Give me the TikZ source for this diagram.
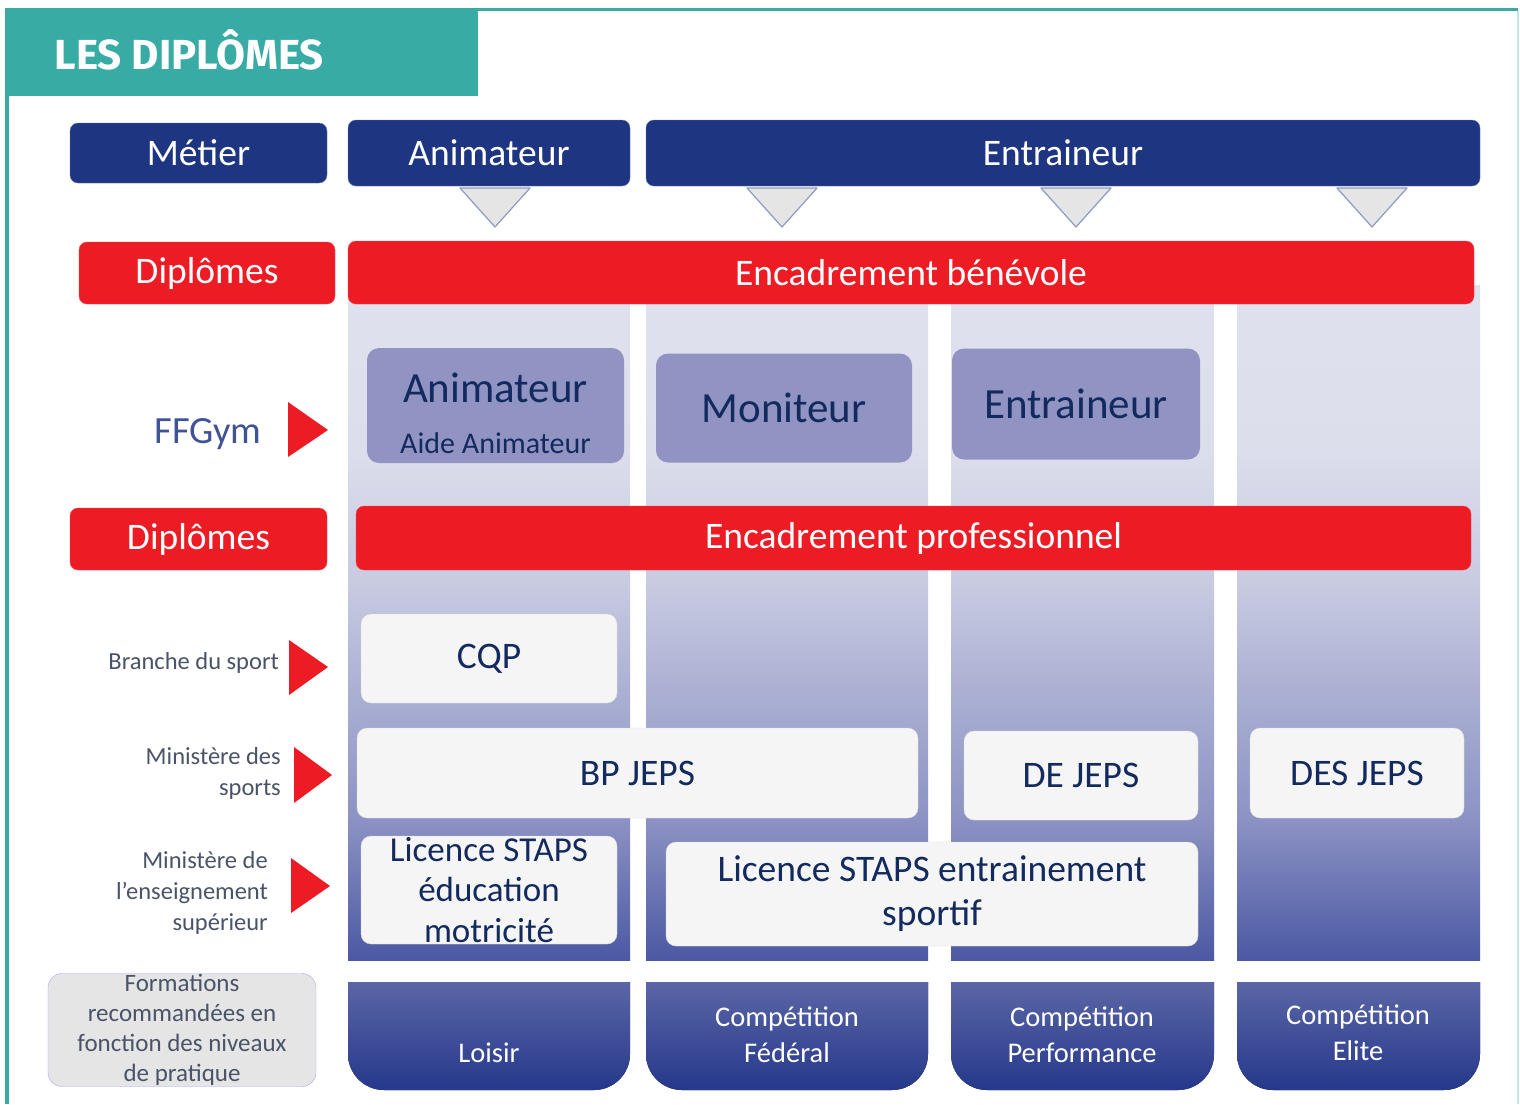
\documentclass[tikz,border=0pt]{standalone}
\usepackage{fontspec}
\setmainfont{Carlito}
\newfontfamily\headfont{Fira Sans}
\usetikzlibrary{positioning}

\definecolor{teal}{HTML}{38ABA5}
\definecolor{navy}{HTML}{1E3582}
\definecolor{rouge}{HTML}{ED1C24}
\definecolor{mauve}{HTML}{9194C2}
\definecolor{encre}{HTML}{122A5E}
\definecolor{ardoise}{HTML}{4A5468}
\definecolor{botTop}{HTML}{5A66A5}
\definecolor{botBot}{HTML}{26388B}

% degrade des colonnes (de bas en haut)
\pgfdeclareverticalshading{colshade}{100bp}{
  color(0bp)=(rgb,255:red,75;green,89;blue,163);
  color(25bp)=(rgb,255:red,75;green,89;blue,163);
  color(35.4bp)=(rgb,255:red,140;green,146;blue,195);
  color(44.3bp)=(rgb,255:red,169;green,174;blue,210);
  color(53.1bp)=(rgb,255:red,200;green,203;blue,225);
  color(62.8bp)=(rgb,255:red,220;green,222;blue,236);
  color(75bp)=(rgb,255:red,223;green,225;blue,238);
  color(100bp)=(rgb,255:red,223;green,225;blue,238)}

\tikzset{
  metierbox/.style={fill=navy, draw=navy!70!white, rounded corners=8pt, text=white,
    font=\fontsize{37.5}{44}\selectfont, inner sep=0pt},
  diplbox/.style={fill=rouge, draw=rouge!80!white, rounded corners=8pt, text=white,
    font=\fontsize{37.5}{44}\selectfont, inner sep=0pt},
  ffbox/.style={fill=mauve, rounded corners=12pt, text=encre, inner sep=0pt},
  whitebox/.style={fill=white!96!black, draw=white!85!black, rounded corners=10pt,
    text=encre, inner sep=0pt, align=center},
  sidelabel/.style={text=ardoise, anchor=east, align=right, inner sep=0pt,
    font=\fontsize{24.5}{31}\selectfont},
  redtri/.style={fill=rouge},
  graytri/.style={fill=white!90!black, draw=navy!50!white, line width=1.2pt, line join=round},
  colonne/.style={shading=colshade},
  niveau/.style={top color=botTop, bottom color=botBot},
  niveautext/.style={text=white, align=center, font=\fontsize{28.5}{36}\selectfont}
}

\begin{document}
\begin{tikzpicture}[x=1pt, y=-1pt]
  \useasboundingbox (0,0) rectangle (1520,1104);
  \fill[white] (0,0) rectangle (1520,1104);

  % cadre et titre
  \fill[teal] (5,8) rectangle (1518,11);
  \fill[teal] (5,8) rectangle (9,1104);
  \fill[teal!30!white] (1517,11) rectangle (1519,1104);
  \fill[teal] (5,8) rectangle (478,96);
  \node[anchor=west, text=white, font=\headfont\bfseries\fontsize{42}{48}\selectfont] (titre) at (51,50) {LES DIPLÔMES};

  % colonnes en degrade
  \foreach \xa/\xb in {348/630, 646/928, 951/1214, 1237/1480} {
    \shade[colonne] (\xa,285) rectangle (\xb,960);
    \fill[niveau, rounded corners=36pt] (\xa,982) -- (\xa,1090) -- (\xb,1090) -- (\xb,982);
  }

  % ligne metier
  \node[metierbox, minimum width=257, minimum height=60] (metier) at (198.5,153) {Métier};
  \node[metierbox, minimum width=282, minimum height=66] (anim) at (489,153) {Animateur};
  \node[metierbox, minimum width=834, minimum height=66] (entr) at (1063,153) {Entraineur};

  % petits triangles sous les metiers
  \foreach \cx in {495, 782, 1076, 1372}
    \draw[graytri] (\cx-35,188) -- (\cx+35,188) -- (\cx,227) -- cycle;

  % encadrement benevole
  \node[diplbox, minimum width=256, minimum height=62] (dipl1) at (207,273) {Diplômes};
  \node[diplbox, minimum width=1126, minimum height=63] (benev) at (911,272.5) {Encadrement bénévole};

  % diplomes FFGym
  \node[text=navy!85!white, font=\fontsize{38.5}{44}\selectfont] (ffgym) at (208,434) {FFGym};
  \fill[redtri] (288,402) -- (328,430) -- (288,457) -- cycle;
  \node[ffbox, minimum width=257, minimum height=115] (animff) at (495.5,405.5) {};
  \node[text=encre, font=\fontsize{43}{48}\selectfont] (animt) at (495.5,388) {Animateur};
  \node[text=encre, font=\fontsize{30}{36}\selectfont] (aide) at (495.5,443) {Aide Animateur};
  \node[ffbox, minimum width=256, minimum height=109, font=\fontsize{43}{48}\selectfont] (monit) at (784,408) {Moniteur};
  \node[ffbox, minimum width=248, minimum height=111, font=\fontsize{43}{48}\selectfont] (entrff) at (1076,404) {Entraineur};

  % encadrement professionnel
  \node[diplbox, minimum width=257, minimum height=62] (dipl2) at (198.5,539) {Diplômes};
  \node[diplbox, minimum width=1115, minimum height=64] (pro) at (913.5,538) {Encadrement professionnel};

  % tutelles
  \node[sidelabel] (branche) at (279,663) {Branche du sport};
  \fill[redtri] (289,640) -- (328,667) -- (289,695) -- cycle;
  \node[sidelabel] (minsport) at (281,773) {Ministère des\\sports};
  \fill[redtri] (294,747) -- (332,775) -- (294,803) -- cycle;
  \node[sidelabel] (minsup) at (268,893) {Ministère de\\l’enseignement\\supérieur};
  \fill[redtri] (291,858) -- (330,886) -- (291,913) -- cycle;

  % diplomes d'etat
  \node[whitebox, minimum width=256, minimum height=89, font=\fontsize{37.5}{44}\selectfont] (cqp) at (489,658.5) {CQP};
  \node[whitebox, minimum width=561, minimum height=90, font=\fontsize{37.5}{44}\selectfont] (bpjeps) at (637.5,773) {BP JEPS};
  \node[whitebox, minimum width=234, minimum height=89, font=\fontsize{37.5}{44}\selectfont] (dejeps) at (1081,775.5) {DE JEPS};
  \node[whitebox, minimum width=214, minimum height=90, font=\fontsize{37.5}{44}\selectfont] (desjeps) at (1357,773) {DES JEPS};
  \node[whitebox, minimum width=256, minimum height=108, font=\fontsize{35}{40.5}\selectfont] (lic1) at (489,890) {Licence STAPS\\éducation\\motricité};
  \node[whitebox, minimum width=532, minimum height=104, font=\fontsize{37.5}{44}\selectfont] (lic2) at (932,894) {Licence STAPS entrainement\\sportif};

  % niveaux de pratique
  \node[fill=white!90!black, draw=blue!35!white, rounded corners=14pt, minimum width=268, minimum height=113,
    inner sep=0pt, align=center, text=ardoise, font=\fontsize{25}{30}\selectfont] (formations) at (182,1030) {Formations\\recommandées en\\fonction des niveaux\\de pratique};
  \node[niveautext] (loisir) at (489,1053) {Loisir};
  \node[niveautext] (federal) at (787,1035) {Compétition\\Fédéral};
  \node[niveautext] (perf) at (1082,1035) {Compétition\\Performance};
  \node[niveautext] (elite) at (1358,1033) {Compétition\\Elite};
\end{tikzpicture}
\end{document}
